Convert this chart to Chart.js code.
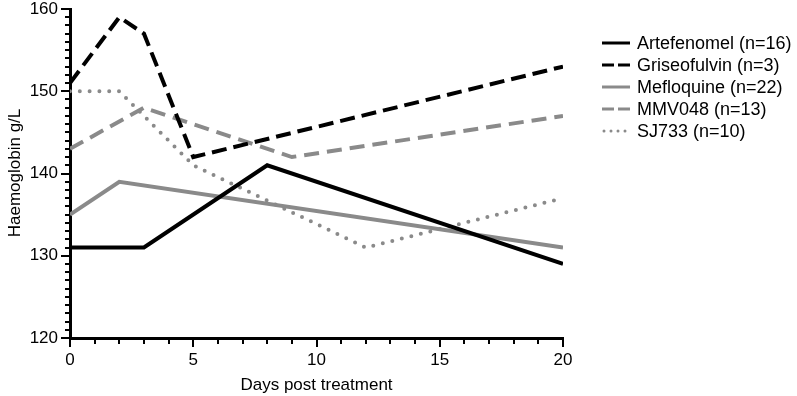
<!DOCTYPE html>
<html>
<head>
<meta charset="utf-8">
<script src="https://cdn.jsdelivr.net/npm/chart.js@4.4.0/dist/chart.umd.min.js"></script>
<style>
  html, body { margin: 0; padding: 0; background: #fff; }
  #wrap { width: 797px; height: 396px; position: relative; }
</style>
</head>
<body>
<div id="wrap"><canvas id="grafico" width="797" height="396"></canvas></div>
<script>
/* ============================
   DATOS
   ============================ */
const ejeXTicks = [0, 5, 10, 15, 20];
const ejeYTicks = [120, 130, 140, 150, 160];

const artefenomelDias = [0, 3, 8, 20];
const artefenomelHb   = [131, 131, 141, 129];

const griseofulvinDias = [0, 2, 3, 5, 20];
const griseofulvinHb   = [151, 159, 157, 142, 153];

const mefloquineDias = [0, 2, 20];
const mefloquineHb   = [135, 139, 131];

const mmv048Dias = [0, 3, 9, 20];
const mmv048Hb   = [143, 148, 142, 147];

const sj733Dias = [0, 2, 5, 12, 20];
const sj733Hb   = [150, 150, 141, 131, 137];

const etiquetas = [
  "Artefenomel (n=16)",
  "Griseofulvin (n=3)",
  "Mefloquine (n=22)",
  "MMV048 (n=13)",
  "SJ733 (n=10)"
];

const NEGRO = "#000000";
const GRIS = "#8a8a8a";
const FUENTE = "'Liberation Sans', Arial, sans-serif";

function puntos(xs, ys) {
  return xs.map((x, i) => ({ x: x, y: ys[i] }));
}

function serie(label, xs, ys, color, dash, cap) {
  return {
    label: label,
    data: puntos(xs, ys),
    borderColor: color,
    borderWidth: 4,
    borderDash: dash,
    borderCapStyle: cap || "butt",
    borderJoinStyle: "miter",
    pointRadius: 0,
    tension: 0,
    fill: false
  };
}

/* ============================
   PLUGIN: ticks menores, títulos y leyenda
   ============================ */
const decoracion = {
  id: "decoracion",
  afterDraw(chart) {
    const ctx = chart.ctx;
    const x = chart.scales.x;
    const y = chart.scales.y;
    const area = chart.chartArea;

    ctx.save();
    ctx.strokeStyle = NEGRO;
    ctx.lineWidth = 2;
    ctx.lineCap = "butt";

    // ticks del eje X (cada día)
    for (let d = x.min; d <= x.max; d++) {
      const px = Math.round(x.getPixelForValue(d));
      const largo = d % 5 === 0 ? 9 : 6;
      ctx.beginPath();
      ctx.moveTo(px, area.bottom);
      ctx.lineTo(px, area.bottom + largo);
      ctx.stroke();
    }

    // ticks del eje Y (cada unidad)
    for (let v = y.min; v <= y.max; v++) {
      const py = Math.round(y.getPixelForValue(v));
      const largo = v % 10 === 0 ? 9 : 5;
      ctx.beginPath();
      ctx.moveTo(area.left, py);
      ctx.lineTo(area.left - largo, py);
      ctx.stroke();
    }

    // títulos de ejes
    ctx.fillStyle = NEGRO;
    ctx.font = "17px " + FUENTE;
    ctx.textAlign = "center";
    ctx.textBaseline = "middle";
    ctx.fillText("Days post treatment", (area.left + area.right) / 2, 385);

    ctx.save();
    ctx.translate(15, 173);
    ctx.rotate(-Math.PI / 2);
    ctx.fillText("Haemoglobin g/L", 0, 0);
    ctx.restore();

    // leyenda
    const x0 = 602, x1 = 630, yIni = 43, paso = 22;
    ctx.font = "18px " + FUENTE;
    ctx.textAlign = "left";
    chart.data.datasets.forEach((ds, i) => {
      const yy = yIni + i * paso;
      ctx.beginPath();
      ctx.strokeStyle = ds.borderColor;
      ctx.lineWidth = 3;
      ctx.lineCap = ds.borderCapStyle;
      const dash = i === 4 ? [0, 7] : (ds.borderDash.length ? [12, 4] : []);
      ctx.setLineDash(dash);
      ctx.moveTo(x0 + (i === 4 ? 2 : 0), yy);
      ctx.lineTo(x1, yy);
      ctx.stroke();
      ctx.setLineDash([]);
      ctx.fillStyle = NEGRO;
      ctx.fillText(ds.label, 637, yy + 1);
    });
    ctx.restore();
  }
};

/* ============================
   CHART
   ============================ */
const ctx = document.getElementById("grafico").getContext("2d");
new Chart(ctx, {
  type: "line",
  data: {
    datasets: [
      serie(etiquetas[0], artefenomelDias, artefenomelHb, NEGRO, []),
      serie(etiquetas[1], griseofulvinDias, griseofulvinHb, NEGRO, [15, 7]),
      serie(etiquetas[2], mefloquineDias, mefloquineHb, GRIS, []),
      serie(etiquetas[3], mmv048Dias, mmv048Hb, GRIS, [15, 8]),
      serie(etiquetas[4], sj733Dias, sj733Hb, GRIS, [0, 9.8], "round")
    ]
  },
  options: {
    responsive: false,
    animation: false,
    layout: { padding: { left: 0, right: 234, top: 9, bottom: 0 } },
    plugins: { legend: { display: false }, tooltip: { enabled: false } },
    scales: {
      x: {
        type: "linear",
        min: 0,
        max: 20,
        afterFit(scale) { scale.height = 58; },
        afterBuildTicks(scale) { scale.ticks = ejeXTicks.map(v => ({ value: v })); },
        grid: { display: false, drawTicks: true, tickLength: 14 },
        border: { display: true, color: NEGRO, width: 3 },
        ticks: { color: NEGRO, padding: 0, font: { size: 17, family: FUENTE, lineHeight: 1 }, maxRotation: 0 }
      },
      y: {
        type: "linear",
        min: 120,
        max: 160,
        afterFit(scale) { scale.width = 70; },
        afterBuildTicks(scale) { scale.ticks = ejeYTicks.map(v => ({ value: v })); },
        grid: { display: false, drawTicks: true, tickLength: 12 },
        border: { display: true, color: NEGRO, width: 3 },
        ticks: { color: NEGRO, padding: 0, font: { size: 17, family: FUENTE, lineHeight: 1 } }
      }
    }
  },
  plugins: [decoracion]
});
</script>
</body>
</html>
